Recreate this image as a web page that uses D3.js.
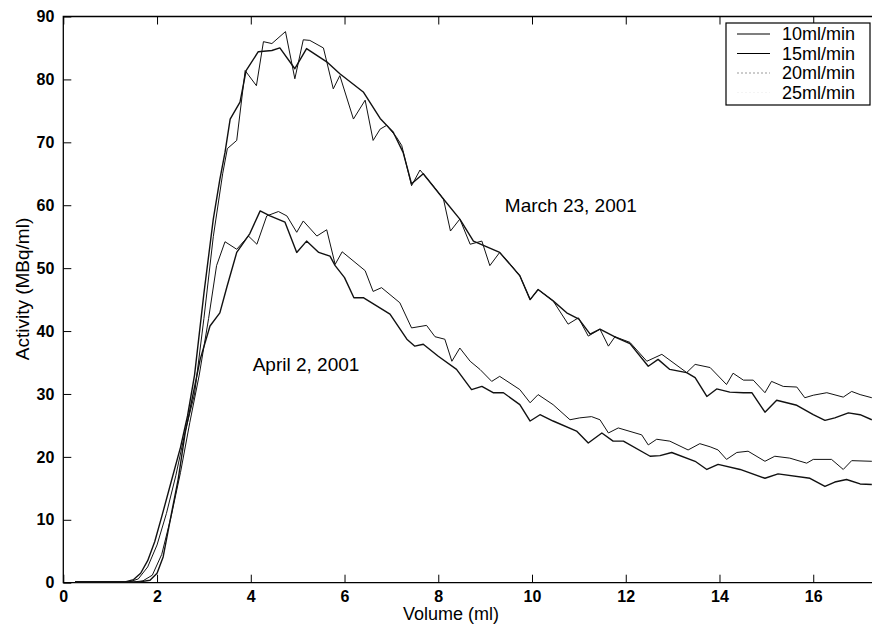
<!DOCTYPE html>
<html>
<head>
<meta charset="utf-8">
<script src="https://cdn.jsdelivr.net/npm/d3@7"></script>
<style>
  body { margin: 0; background: #fff; }
  text { font-family: "Liberation Sans", Arial, sans-serif; fill: #000; }
</style>
</head>
<body>
<div id="chart"></div>
<script>
// elution profiles, [volume (ml), activity (MBq/ml)]
const flow10 = [[0.25,0.1],[1.3,0.1],[1.5,0.5],[1.65,1.5],[1.8,3.5],[1.95,6.5],[2.1,10.5],[2.3,16],[2.5,21.5],[2.65,26.5],[2.8,33],[3.0,46],[3.2,57.8],[3.34,64.1],[3.45,68.4],[3.56,73.7],[3.77,76.4],[3.9,81.4],[4.16,84.4],[4.45,84.6],[4.62,85.0],[4.94,81.7],[5.19,84.9],[5.62,82.8],[5.9,80.9],[6.4,78.0],[6.76,73.8],[7.04,71.6],[7.25,68.4],[7.43,63.4],[7.68,65.0],[8.11,61.0],[8.46,57.8],[8.75,54.3],[9.0,53.5],[9.31,52.5],[9.74,48.8],[9.96,45.0],[10.13,46.6],[10.45,44.8],[10.74,42.9],[11.0,41.9],[11.24,39.5],[11.45,40.3],[11.81,38.9],[12.09,38.0],[12.48,34.4],[12.69,35.5],[12.94,33.9],[13.3,33.4],[13.48,32.6],[13.73,29.6],[13.94,30.8],[14.22,30.3],[14.51,30.2],[14.69,30.2],[14.97,27.1],[15.22,29.0],[15.65,28.2],[16.0,26.7],[16.25,25.8],[16.46,26.2],[16.75,27.0],[17.0,26.7],[17.25,25.9]];
const flow15 = [[0.25,0.1],[1.4,0.1],[1.6,0.6],[1.8,2.5],[2.0,6],[2.2,11],[2.4,17],[2.6,24],[2.8,30],[3.0,42],[3.2,55],[3.4,65],[3.5,69],[3.7,70.3],[3.88,81.4],[4.12,79.0],[4.27,86.0],[4.45,85.7],[4.74,87.6],[4.94,80.1],[5.12,86.3],[5.26,86.2],[5.55,85.0],[5.76,78.5],[5.9,80.6],[6.19,73.7],[6.44,76.7],[6.61,70.3],[6.76,72.1],[6.9,72.7],[7.11,70.8],[7.22,69.5],[7.43,63.1],[7.61,65.6],[7.9,63.0],[8.11,61.0],[8.26,55.9],[8.46,57.8],[8.68,53.8],[8.93,54.3],[9.1,50.4],[9.31,52.5],[9.55,50.5],[9.74,48.8],[9.96,45.0],[10.13,46.6],[10.45,44.8],[10.77,41.1],[10.99,42.1],[11.2,39.2],[11.45,40.3],[11.63,37.6],[11.77,39.1],[12.09,38.2],[12.45,35.2],[12.77,36.3],[13.3,33.4],[13.48,34.7],[13.8,34.2],[14.15,31.5],[14.29,33.3],[14.51,32.2],[14.72,32.2],[14.97,30.2],[15.11,32.0],[15.36,31.2],[15.65,31.1],[15.82,29.4],[16.0,29.8],[16.29,30.2],[16.64,29.5],[16.82,30.4],[17.0,29.9],[17.25,29.4]];
const flow20 = [[0.25,0.1],[1.5,0.1],[1.7,0.3],[1.9,1.2],[2.1,4.5],[2.3,10.5],[2.5,17.5],[2.7,25.5],[2.9,33],[3.1,42],[3.27,50.4],[3.45,54.2],[3.7,53.0],[3.95,55.1],[4.13,53.8],[4.34,58.3],[4.59,59.0],[4.77,58.3],[4.98,55.7],[5.12,57.5],[5.41,55.1],[5.62,56.1],[5.8,50.6],[5.95,52.6],[6.44,49.6],[6.61,46.3],[6.79,46.9],[7.18,44.5],[7.43,40.5],[7.75,40.9],[7.93,39.1],[8.14,38.7],[8.29,35.2],[8.46,37.3],[8.68,35.2],[8.89,33.9],[9.14,32.0],[9.31,32.8],[9.74,30.7],[9.96,28.6],[10.13,29.9],[10.45,28.3],[10.81,25.9],[11.02,26.2],[11.27,26.4],[11.45,25.9],[11.63,23.8],[11.84,24.6],[12.34,23.5],[12.48,21.9],[12.66,22.8],[12.94,22.5],[13.33,21.1],[13.58,22.1],[13.8,21.6],[13.97,21.1],[14.15,19.6],[14.37,20.7],[14.61,20.9],[14.97,19.3],[15.18,20.1],[15.5,19.8],[15.86,19.0],[16.0,19.6],[16.39,19.6],[16.64,18.0],[16.82,19.4],[17.25,19.3]];
const flow25 = [[0.25,0.1],[1.6,0.1],[1.85,0.4],[2.0,1.5],[2.13,4.1],[2.31,11.1],[2.45,16.4],[2.6,23.8],[2.77,30],[2.92,35.5],[3.13,40.8],[3.34,42.9],[3.49,47],[3.7,52.5],[3.98,55.5],[4.2,59.1],[4.41,58.3],[4.73,57.3],[4.98,52.5],[5.19,54.3],[5.45,52.5],[5.69,51.9],[5.8,50.4],[6.0,48.5],[6.2,45.3],[6.4,45.3],[6.97,42.7],[7.33,38.7],[7.5,37.6],[7.68,37.9],[8.0,36.0],[8.39,33.9],[8.71,30.7],[8.93,31.2],[9.17,30.2],[9.39,30.2],[9.74,28.3],[9.96,25.7],[10.17,26.7],[10.45,25.7],[10.95,24.1],[11.2,22.2],[11.49,23.8],[11.73,22.5],[11.95,22.5],[12.52,20.1],[12.73,20.2],[12.98,20.7],[13.48,19.3],[13.73,18.0],[13.97,18.8],[14.44,18.0],[14.97,16.6],[15.25,17.3],[15.93,16.6],[16.25,15.3],[16.46,16.0],[16.71,16.4],[17.0,15.7],[17.25,15.6]];

const seriesNames = ["10ml/min", "15ml/min", "20ml/min", "25ml/min"];
const xTicks = [0, 2, 4, 6, 8, 10, 12, 14, 16];
const yTicks = [0, 10, 20, 30, 40, 50, 60, 70, 80, 90];
const notes = [{ text: "March 23, 2001", v: 9.42, a: 59.0 }, { text: "April 2, 2001", v: 4.04, a: 33.6 }];

const W = 872, H = 625;
const plotLeft = 63.3, plotTop = 16.5, plotBottom = 582.7;

const svg = d3.select("#chart").append("svg")
    .attr("width", W)
    .attr("height", H);

const x = d3.scaleLinear().domain([0, 17.26]).range([plotLeft, 872.3]);
const y = d3.scaleLinear().domain([0, 90]).range([plotBottom, plotTop]);

// frame (right side runs off the page)
svg.append("path")
    .attr("d", `M${W + 2},${plotTop}H${plotLeft}V${plotBottom}H${W + 2}`)
    .attr("fill", "none")
    .attr("stroke", "#000")
    .attr("stroke-width", 1.3);

// inward ticks
const tickLen = 8;
svg.append("g")
    .attr("transform", `translate(0,${plotBottom})`)
    .call(d3.axisBottom(x).tickValues(xTicks).tickSizeInner(-tickLen).tickSizeOuter(0).tickPadding(8))
    .call(g => g.select(".domain").remove());
svg.append("g")
    .attr("transform", `translate(0,${plotTop})`)
    .call(d3.axisTop(x).tickValues(xTicks).tickSizeInner(-tickLen).tickSizeOuter(0).tickFormat(""))
    .call(g => g.select(".domain").remove());
svg.append("g")
    .attr("transform", `translate(${plotLeft},0)`)
    .call(d3.axisLeft(y).tickValues(yTicks).tickSizeInner(-tickLen).tickSizeOuter(0).tickPadding(9))
    .call(g => g.select(".domain").remove());

svg.selectAll(".tick line").attr("stroke", "#000").attr("stroke-width", 1);
svg.selectAll(".tick text")
    .style("font-family", "'Liberation Sans', Arial, sans-serif")
    .style("font-size", "16px")
    .style("font-weight", "bold");

// curves
const line = d3.line().x(d => x(d[0])).y(d => y(d[1]));
const curves = [flow10, flow15, flow20, flow25];
const widths = [1.4, 1.0, 1.0, 1.4];
svg.selectAll(".curve")
    .data(curves)
    .enter()
    .append("path")
    .attr("class", "curve")
    .attr("d", line)
    .attr("fill", "none")
    .attr("stroke", "#111")
    .attr("stroke-width", (d, i) => widths[i])
    .attr("stroke-linejoin", "round");

// annotations
svg.selectAll(".note")
    .data(notes)
    .enter()
    .append("text")
    .attr("class", "note")
    .attr("x", d => x(d.v))
    .attr("y", d => y(d.a))
    .style("font-size", "19px")
    .text(d => d.text);

// axis titles
svg.append("text")
    .attr("x", 451)
    .attr("y", 620)
    .attr("text-anchor", "middle")
    .style("font-size", "18px")
    .text("Volume (ml)");
svg.append("text")
    .attr("transform", "translate(29,289) rotate(-90)")
    .attr("text-anchor", "middle")
    .style("font-size", "19px")
    .text("Activity (MBq/ml)");

// legend
const legendStroke = ["#000", "#000", "#999", "#f4f4f4"];
const legendDash = [null, null, "2,2", "2,2"];
const legend = svg.append("g").attr("transform", "translate(726,23)");
legend.append("rect")
    .attr("width", 144)
    .attr("height", 82)
    .attr("fill", "#fff")
    .attr("stroke", "#000")
    .attr("stroke-width", 1.2);
const rows = legend.selectAll(".row")
    .data(seriesNames)
    .enter()
    .append("g")
    .attr("transform", (d, i) => `translate(0,${11 + i * 19.5})`);
rows.append("line")
    .attr("x1", 11).attr("x2", 44)
    .attr("stroke", (d, i) => legendStroke[i])
    .attr("stroke-dasharray", (d, i) => legendDash[i])
    .attr("stroke-width", 1.2);
rows.append("text")
    .attr("x", 56)
    .attr("y", 6)
    .style("font-size", "18px")
    .text(d => d);
</script>
</body>
</html>
